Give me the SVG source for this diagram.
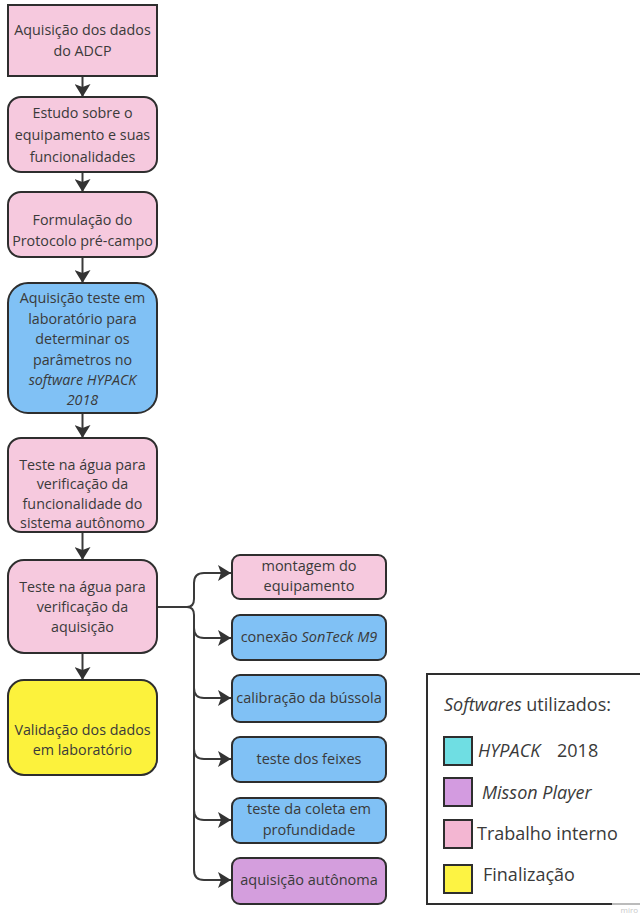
<svg xmlns="http://www.w3.org/2000/svg" width="640" height="915" viewBox="0 0 640 915">
<style>
text{font-family:"Open Sans","Liberation Sans",sans-serif;fill:#3a3a3a}
.n{font-size:14.3px;text-anchor:middle}
.s{font-size:14.5px;text-anchor:middle}
.lg{font-size:18px}
.box{stroke:#2e2e2e;stroke-width:2}
.pink{fill:#f6c9de}
.blue{fill:#80c1f5}
.yel{fill:#fcf23c}
.pur{fill:#d49edd}
.c{fill:none;stroke:#3a3a3a;stroke-width:2}
.i{font-style:italic}
</style>
<defs>
<marker id="ah" markerUnits="userSpaceOnUse" markerWidth="16" markerHeight="16" refX="13" refY="8" orient="auto">
<path d="M0,0 L13,8 L0,16 L3,8 Z" fill="#333"/>
</marker>
</defs>
<rect width="640" height="915" fill="#fff"/>
<g id="connectors">
<line class="c" x1="82.5" y1="76" x2="82.5" y2="97" marker-end="url(#ah)"/>
<line class="c" x1="82.5" y1="172" x2="82.5" y2="192" marker-end="url(#ah)"/>
<line class="c" x1="82.5" y1="257" x2="82.5" y2="283" marker-end="url(#ah)"/>
<line class="c" x1="82.5" y1="413" x2="82.5" y2="438" marker-end="url(#ah)"/>
<line class="c" x1="82.5" y1="532" x2="82.5" y2="560" marker-end="url(#ah)"/>
<line class="c" x1="82.5" y1="653" x2="82.5" y2="680" marker-end="url(#ah)"/>
<path class="c" d="M157,607 H187"/>
<path class="c" d="M187,607 Q194,607 194,599 V583 Q194,573 204,573 H231" marker-end="url(#ah)"/>
<path class="c" d="M187,607 Q194,607 194,615 V628 Q194,638 204,638 H231" marker-end="url(#ah)"/>
<path class="c" d="M194,628 V688 Q194,698 204,698 H231" marker-end="url(#ah)"/>
<path class="c" d="M194,688 V749 Q194,759 204,759 H231" marker-end="url(#ah)"/>
<path class="c" d="M194,749 V810 Q194,820 204,820 H231" marker-end="url(#ah)"/>
<path class="c" d="M194,810 V870 Q194,880 204,880 H231" marker-end="url(#ah)"/>
</g>
<g id="n1">
<rect class="box pink" x="8" y="5" width="149" height="71"/>
<text class="n" x="82.5" y="35">Aquisição dos dados</text>
<text class="n" x="82.5" y="56">do ADCP</text>
</g>
<g id="n2">
<rect class="box pink" x="8" y="97" width="149" height="75" rx="13"/>
<text class="n" x="82.5" y="118">Estudo sobre o</text>
<text class="n" x="82.5" y="140">equipamento e suas</text>
<text class="n" x="82.5" y="162">funcionalidades</text>
</g>
<g id="n3">
<rect class="box pink" x="8" y="192" width="149" height="65" rx="13"/>
<text class="n" x="82.5" y="225">Formulação do</text>
<text class="n" x="82.5" y="246">Protocolo pré-campo</text>
</g>
<g id="n4">
<rect class="box blue" x="8" y="283" width="149" height="130" rx="20"/>
<text class="n" x="82.5" y="303">Aquisição teste em</text>
<text class="n" x="82.5" y="324">laboratório para</text>
<text class="n" x="82.5" y="344">determinar os</text>
<text class="n" x="82.5" y="365">parâmetros no</text>
<text class="n i" x="82.5" y="385">software HYPACK </text>
<text class="n i" x="82.5" y="405">2018</text>
</g>
<g id="n5">
<rect class="box pink" x="8" y="438" width="149" height="94" rx="13"/>
<text class="n" x="82.5" y="470">Teste na água para</text>
<text class="n" x="82.5" y="489">verificação da</text>
<text class="n" x="82.5" y="509">funcionalidade do</text>
<text class="n" x="82.5" y="528">sistema autônomo</text>
</g>
<g id="n6">
<rect class="box pink" x="8" y="560" width="149" height="93" rx="16"/>
<text class="n" x="82.5" y="592">Teste na água para</text>
<text class="n" x="82.5" y="612">verificação da</text>
<text class="n" x="82.5" y="632">aquisição</text>
</g>
<g id="n7">
<rect class="box yel" x="8" y="680" width="149" height="95" rx="16"/>
<text class="n" x="82.5" y="735">Validação dos dados</text>
<text class="n" x="82.5" y="755">em laboratório</text>
</g>
<g id="r1">
<rect class="box pink" x="232" y="555" width="154" height="44" rx="8"/>
<text class="s" x="309" y="571">montagem do</text>
<text class="s" x="309" y="591">equipamento</text>
</g>
<g id="r2">
<rect class="box blue" x="232" y="615" width="154" height="45" rx="8"/>
<text class="s" x="309" y="642">conexão <tspan class="i">SonTeck M9</tspan></text>
</g>
<g id="r3">
<rect class="box blue" x="232" y="675" width="154" height="47" rx="8"/>
<text class="s" x="309" y="703">calibração da bússola</text>
</g>
<g id="r4">
<rect class="box blue" x="232" y="737" width="154" height="45" rx="8"/>
<text class="s" x="309" y="764">teste dos feixes</text>
</g>
<g id="r5">
<rect class="box blue" x="232" y="798" width="154" height="45" rx="8"/>
<text class="s" x="309" y="814">teste da coleta em</text>
<text class="s" x="309" y="835">profundidade</text>
</g>
<g id="r6">
<rect class="box pur" x="232" y="858" width="154" height="46" rx="8"/>
<text class="s" x="309" y="885">aquisição autônoma</text>
</g>
<g id="legend">
<path d="M645,674 H427 V904 H612" fill="none" stroke="#2e2e2e" stroke-width="2"/>
<path d="M612,904 H645" fill="none" stroke="#bbb" stroke-width="2"/>
<text class="lg" x="444" y="711"><tspan class="i">Softwares</tspan> utilizados:</text>
<rect class="box" x="444" y="737" width="28" height="28" fill="#6fdee3"/>
<text class="lg" x="478" y="757"><tspan class="i">HYPACK</tspan><tspan x="557">2018</tspan></text>
<rect class="box" x="444" y="778" width="28" height="28" fill="#d39be0"/>
<text class="lg i" x="482" y="799">Misson Player</text>
<rect class="box" x="444" y="820" width="28" height="28" fill="#f3b6d2"/>
<text class="lg" x="477" y="840">Trabalho interno</text>
<rect class="box" x="444" y="865" width="28" height="28" fill="#fdf343"/>
<text class="lg" x="483" y="881">Finalização</text>
<text x="638" y="913" font-size="8" text-anchor="end" style="fill:#c8c8c8">miro</text>
</g>
</svg>
